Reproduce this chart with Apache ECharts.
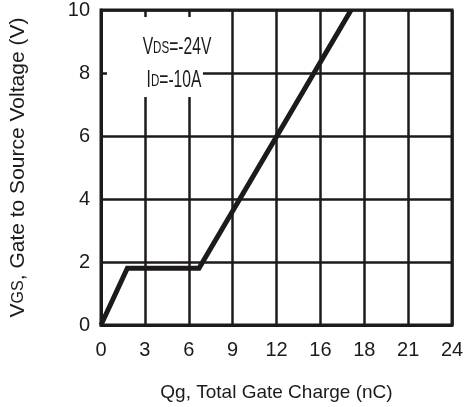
<!DOCTYPE html>
<html>
<head>
<meta charset="utf-8">
<script src="https://cdn.jsdelivr.net/npm/echarts@6/dist/echarts.min.js"></script>
<style>
  html, body { margin: 0; padding: 0; background: #fff; }
  #chart { width: 471px; height: 407px; }
</style>
</head>
<body>
<div id="chart"></div>
<script>
// Gate charge curve: total gate charge (nC) vs gate-to-source voltage (V)
const gateCharge = [0, 1.8, 6.7, 17.1];
const gateVoltage = [0, 1.8, 1.8, 10];
// Tick labels along the charge axis (as printed on the sheet)
const xTickLabels = ['0', '3', '6', '9', '12', '16', '18', '21', '24'];
const yTickLabels = ['0', '2', '4', '6', '8', '10'];

const FONT = '"Liberation Sans Narrow", "Liberation Sans", sans-serif';
const INK = '#1c1a1b';

const chart = echarts.init(document.getElementById('chart'), null, { renderer: 'canvas' });

// condensed-looking annotation text
function noteText(x, y, text) {
  return {
    type: 'text', z: 51, x: x, y: y, scaleX: 0.68,
    style: {
      text: text, align: 'center', verticalAlign: 'middle',
      rich: {
        b: { fontFamily: FONT, fontSize: 23, fill: INK },
        s: { fontFamily: FONT, fontSize: 17, fill: INK }
      }
    }
  };
}

chart.setOption({
  animation: false,
  backgroundColor: '#fff',
  grid: {
    left: 97, right: 19, top: 8, bottom: 79,
    show: true, borderColor: INK, borderWidth: 3, backgroundColor: 'transparent'
  },
  xAxis: {
    type: 'value', min: 0, max: 24, interval: 3,
    name: 'Qg, Total Gate Charge (nC)',
    nameLocation: 'middle', nameGap: 58,
    nameTextStyle: { fontFamily: FONT, fontSize: 19, color: INK },
    axisLine: { show: true, lineStyle: { color: INK, width: 3 } },
    axisTick: { show: false },
    axisLabel: {
      margin: 15, fontFamily: FONT, fontSize: 20, color: INK,
      formatter: v => xTickLabels[Math.round(v / 3)]
    },
    splitLine: { show: true, lineStyle: { color: INK, width: 2.5 } }
  },
  yAxis: {
    type: 'value', min: 0, max: 10, interval: 2,
    name: '{s|V}{sub|GS}{s|, Gate to Source Voltage (V)}',
    nameLocation: 'middle', nameGap: 72, nameRotate: 90,
    nameTextStyle: {
      fontFamily: FONT, color: INK,
      rich: {
        s: { fontFamily: FONT, fontSize: 21, color: INK },
        sub: { fontFamily: FONT, fontSize: 16, color: INK }
      }
    },
    axisLine: { show: true, lineStyle: { color: INK, width: 3 } },
    axisTick: { show: false },
    axisLabel: {
      margin: 11, fontFamily: FONT, fontSize: 20, color: INK,
      formatter: v => yTickLabels[Math.round(v / 2)]
    },
    splitLine: { show: true, lineStyle: { color: INK, width: 2.5 } }
  },
  graphic: [
    {
      type: 'rect', z: 50,
      shape: { x: 107, y: 17, width: 96, height: 80 },
      style: { fill: '#fff' }
    },
    noteText(177, 48, '{b|V}{s|DS}{b|=-24V}'),
    noteText(174, 81, '{b|I}{s|D}{b|=-10A}')
  ],
  series: [{
    type: 'line',
    data: gateCharge.map((q, i) => [q, gateVoltage[i]]),
    showSymbol: false,
    lineStyle: { color: INK, width: 5, join: 'miter' },
    z: 10
  }]
});
</script>
</body>
</html>
